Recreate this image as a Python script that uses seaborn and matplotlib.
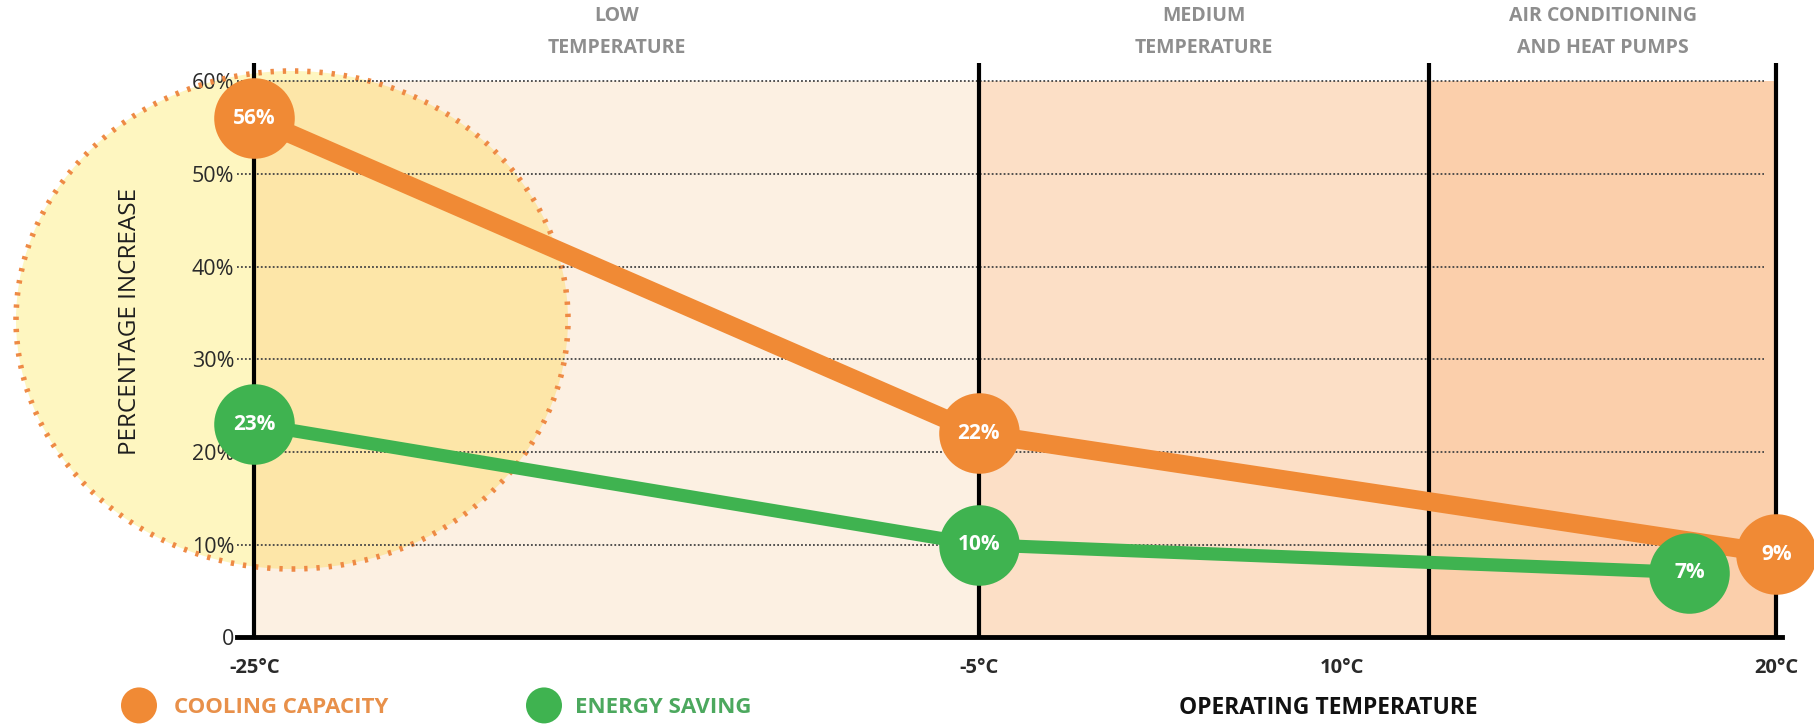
import numpy as np
import matplotlib
matplotlib.use("Agg")
import matplotlib.pyplot as plt
import seaborn as sns
import pandas as pd
from matplotlib.patches import Ellipse, Rectangle

# data
temps_cooling = [-25, -5, 20]
cooling = [56, 22, 9]
temps_saving = [-25, -5, 18]
saving = [23, 10, 7]
x_ticks = [-25, -5, 10, 20]
x_ticklabels = ["-25°C", "-5°C", "10°C", "20°C"]
y_ticks = [0, 10, 20, 30, 40, 50, 60]
y_ticklabels = ["0", "10%", "20%", "30%", "40%", "50%", "60%"]
zones = ["LOW\nTEMPERATURE", "MEDIUM\nTEMPERATURE", "AIR CONDITIONING\nAND HEAT PUMPS"]
zone_edges = [-25, -5, 12, 20]
zone_colors = ["#FCF0E2", "#FCDFC6", "#FBCFAB"]

ORANGE = "#F08A35"
GREEN = "#3FB350"

df = pd.concat([
    pd.DataFrame({"temp": temps_cooling, "value": cooling, "series": "COOLING CAPACITY"}),
    pd.DataFrame({"temp": temps_saving, "value": saving, "series": "ENERGY SAVING"}),
])

# uneven temperature axis, as in the original graphic
t_anchor = [-40, -25, -5, 10, 20, 35]
p_anchor = [-470, 0, 626, 940, 1315, 1877]


def fwd(t):
    return np.interp(t, t_anchor, p_anchor)


def inv(p):
    return np.interp(p, p_anchor, t_anchor)


sns.set_style("white")
plt.rcParams["font.family"] = ["Open Sans", "DejaVu Sans"]

W, H = 1814, 725
fig = plt.figure(figsize=(W / 100, H / 100), dpi=100)
ax = fig.add_axes([0.1307, 0.1207, 0.8517, 0.793])
ax.set_xscale("function", functions=(fwd, inv))
ax.set_xlim(inv(-15), inv(1320))
ax.set_ylim(0, 62)

# highlight circle (under everything)
ell_c = (292 / W, 1 - 320 / H)
ell_w, ell_h = 552 / W, 498 / H
ax.add_patch(Ellipse(ell_c, ell_w, ell_h, transform=fig.transFigure, facecolor="#FEF6C0",
                     edgecolor="none", zorder=0, clip_on=False))

# zone shading
for i in range(3):
    ax.fill_between([zone_edges[i], zone_edges[i + 1]], 0, 60, color=zone_colors[i], zorder=0.5, lw=0)
    mid = inv((fwd(zone_edges[i]) + fwd(zone_edges[i + 1])) / 2)
    ax.text(mid, 65.3, zones[i], ha="center", va="center", fontsize=14, color="#8E8E8E",
            fontweight="bold", linespacing=1.75, clip_on=False)

zone_rect = Rectangle((zone_edges[0], 0), zone_edges[-1] - zone_edges[0], 60,
                      transform=ax.transData, visible=False)
ax.add_patch(zone_rect)
inner = Ellipse(ell_c, ell_w, ell_h, transform=fig.transFigure, facecolor="#FDE6A8",
                edgecolor="none", zorder=0.6)
ax.add_patch(inner)
inner.set_clip_path(zone_rect)
ax.add_patch(Ellipse(ell_c, ell_w, ell_h, transform=fig.transFigure, facecolor="none",
                     edgecolor="#EE8A45", linestyle=(0, (0.6, 1.6)), linewidth=4,
                     zorder=0.7, clip_on=False))

# grid lines
for y in y_ticks[1:]:
    ax.axhline(y, xmin=0, xmax=1315 / 1335 + 0.003, color="#444444", linestyle=(0, (1, 1.2)),
               linewidth=1.3, zorder=1)
for x in zone_edges:
    ax.axvline(x, ymin=0, ymax=1.0, color="black", linewidth=3, zorder=2)

sns.lineplot(data=df, x="temp", y="value", hue="series", palette=[ORANGE, GREEN],
             ax=ax, legend=False, zorder=3)
for line, lw in zip(ax.lines[-2:], [13.5, 9.5]):
    line.set_linewidth(lw)
    line.set_solid_capstyle("round")
    line.set_clip_on(False)

for t, v, c in [(temps_cooling, cooling, ORANGE), (temps_saving, saving, GREEN)]:
    ax.scatter(t, v, s=58 ** 2, color=c, zorder=4, linewidths=0, clip_on=False)
    for ti, vi in zip(t, v):
        ax.text(ti, vi, f"{vi}%", ha="center", va="center", color="white", fontsize=15,
                fontweight="bold", zorder=5)

sns.despine(ax=ax, left=True, top=True, right=True)
ax.spines["bottom"].set_linewidth(3.5)
ax.spines["bottom"].set_color("black")
ax.spines["bottom"].set_zorder(6)
ax.set_xticks(x_ticks)
ax.set_xticklabels(x_ticklabels)
ax.set_yticks(y_ticks)
ax.set_yticklabels(y_ticklabels)
ax.tick_params(axis="x", length=0, pad=15, labelsize=14.5, labelcolor="#2A2A2A")
ax.tick_params(axis="y", length=0, pad=2, labelsize=15.5, labelcolor="#2A2A2A")
for lab in ax.get_xticklabels():
    lab.set_fontweight("bold")
ax.set_xlabel("")
ax.set_ylabel("PERCENTAGE INCREASE", fontsize=17.5, color="#1E1E1E")
ax.yaxis.set_label_coords(-0.0615, 0.549)

# legend row
dot_d = 36
for cx, col in [(139, ORANGE), (544, GREEN)]:
    fig.add_artist(Ellipse((cx / W, 0.027), dot_d / W, dot_d / H, transform=fig.transFigure,
                           facecolor=col, edgecolor="none"))
fig.text(0.0957, 0.024, "COOLING CAPACITY", fontsize=16, color="#E8904A", fontweight="bold",
         ha="left", va="center")
fig.text(0.317, 0.024, "ENERGY SAVING", fontsize=16, color="#4CA85E", fontweight="bold",
         ha="left", va="center")
fig.text(0.732, 0.024, "OPERATING TEMPERATURE", fontsize=16.5, color="#111111",
         fontweight="bold", ha="center", va="center")

fig.savefig("out.png", dpi=100)
